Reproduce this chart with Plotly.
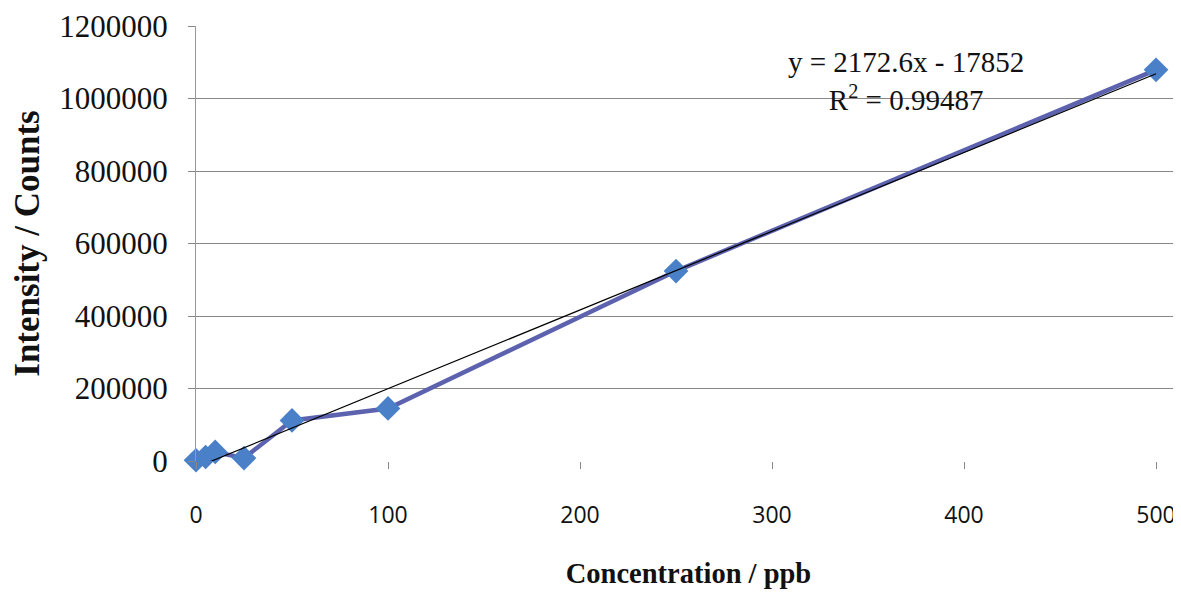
import plotly.graph_objects as go

concentration = [0, 5, 10, 25, 50, 100, 250, 500]
intensity = [2000, 11000, 25000, 8000, 112000, 145000, 524000, 1079000]
slope = 2172.6
intercept = -17852
fit_x = [0, 500]
fit_y = [slope * v + intercept for v in fit_x]
x_ticks = [0, 100, 200, 300, 400, 500]
y_ticks = [0, 200000, 400000, 600000, 800000, 1000000, 1200000]

fig = go.Figure()
fig.add_trace(go.Scatter(
    x=concentration, y=intensity, mode="lines+markers",
    line=dict(color="#5C62AE", width=4.5),
    marker=dict(symbol="diamond", size=19, color="#4A80C8",
                line=dict(color="#4A80C8", width=0)),
    cliponaxis=False, showlegend=False))
fig.add_trace(go.Scatter(
    x=fit_x, y=fit_y, mode="lines",
    line=dict(color="black", width=1.2), showlegend=False))

fig.add_annotation(
    x=370, y=1048000, xref="x", yref="y", showarrow=False,
    text="y = 2172.6x - 17852<br>R<sup>2</sup> = 0.99487",
    font=dict(family="Liberation Serif", size=29, color="#111"),
    align="center")

fig.update_layout(
    width=1173, height=584,
    margin=dict(l=188, r=0, t=18, b=131, autoexpand=False),
    paper_bgcolor="white", plot_bgcolor="white",
    xaxis=dict(range=[0, 513], tickvals=x_ticks, ticks="outside", ticklen=7,
               tickcolor="#888", showgrid=False, zeroline=False,
               showline=False, ticklabelstandoff=26, automargin=False,
               tickfont=dict(family="Open Sans", size=23, color="#111"),
               title=dict(text="<b>Concentration / ppb</b>", standoff=34,
                          font=dict(family="Liberation Serif", size=28.5, color="#111"))),
    yaxis=dict(range=[0, 1200000], tickvals=y_ticks, ticks="outside", ticklen=7,
               tickcolor="#888", showgrid=True, gridcolor="#888", gridwidth=1,
               zeroline=False, showline=True, linecolor="#999", linewidth=1,
               tickformat="d", ticklabelstandoff=14, automargin=False,
               tickfont=dict(family="Liberation Serif", size=31, color="#111"),
               title=dict(text="<b>Intensity / Counts</b>", standoff=26,
                          font=dict(family="Liberation Serif", size=35, color="#111"))),
)
fig.write_html("out.html")
